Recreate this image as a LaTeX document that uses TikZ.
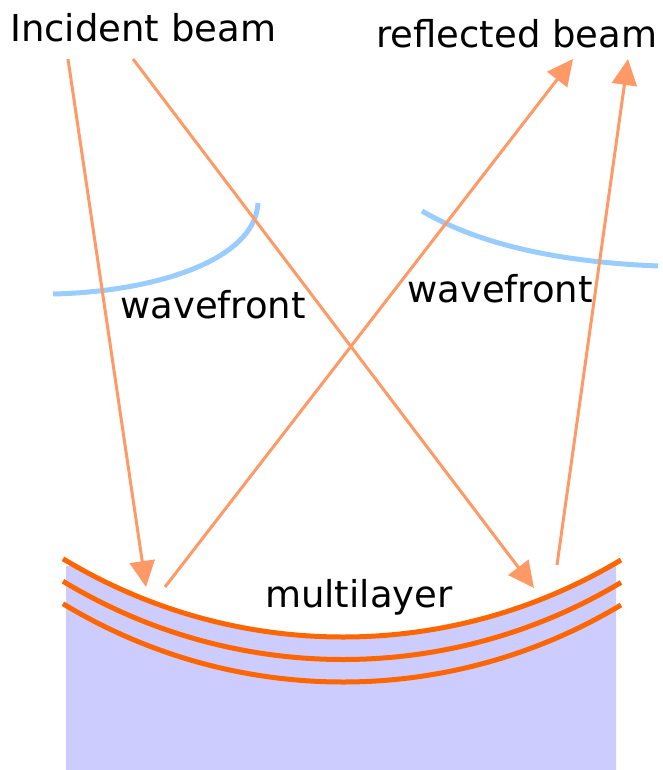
\documentclass[tikz,border=0pt]{standalone}
\usepackage{fontspec}
\setmainfont{DejaVu Sans}
\usetikzlibrary{arrows.meta}
\definecolor{beam}{HTML}{FF9966}
\definecolor{layer}{HTML}{FF6600}
\definecolor{wave}{HTML}{99CCFF}
\definecolor{subst}{HTML}{CCCCFF}
\tikzset{
  lbl/.style={inner sep=0pt, anchor=base west, font=\fontsize{37}{44}\selectfont},
  ray/.style={draw=beam, line width=3pt, -{Triangle[length=26pt,width=25pt]}},
  rayplain/.style={draw=beam, line width=3pt},
  wavefrontline/.style={draw=wave, line width=5pt},
  layerline/.style={draw=layer, line width=5pt},
}
\begin{document}
\begin{tikzpicture}[x=1pt,y=-1pt]
\useasboundingbox (0,0) rectangle (662,770);
% substrate
\begin{scope}
  \clip (66,566) rectangle (616,770);
  \fill[subst] plot[domain=40:640,samples=120] (\x,{97+10*sqrt(2916-((\x-343)/10)^2)}) -- (640,800) -- (40,800) -- cycle;
\end{scope}
% multilayer arcs
\foreach \off in {0,22.5,45}{
  \draw[layerline] plot[domain=63:621,samples=120] (\x,{97+\off+10*sqrt(2916-((\x-343)/10)^2)});
}
% wavefronts
\draw[wavefrontline] (53,294) .. controls (150,292) and (255,262) .. (258,203);
\draw[wavefrontline] (422,211) .. controls (480,245) and (560,262) .. (658,266);
% beam end points
\coordinate (i1s) at (68,59);
\coordinate (i1e) at (146,587);
\coordinate (i2s) at (133,59);
\coordinate (i2e) at (534,588);
\coordinate (r1s) at (165,587);
\coordinate (r1e) at (573,59);
\coordinate (r2s) at (557,565);
\coordinate (r2e) at (628,59);
\draw[ray] (i1s) -- (i1e);
\draw[ray] (i2s) -- (i2e);
\draw[ray] (r1s) -- (r1e);
\draw[ray] (r2s) -- (r2e);
% labels
\node[lbl] (inc) at (10,42) {Incident beam};
\node[lbl] (refl) at (376,48) {reflected beam};
\node[lbl] (wf1) at (120,318) {wavefront};
\node[lbl] (wf2) at (407,302) {wavefront};
\node[lbl] (ml) at (265,607) {multilayer};
\end{tikzpicture}
\end{document}
